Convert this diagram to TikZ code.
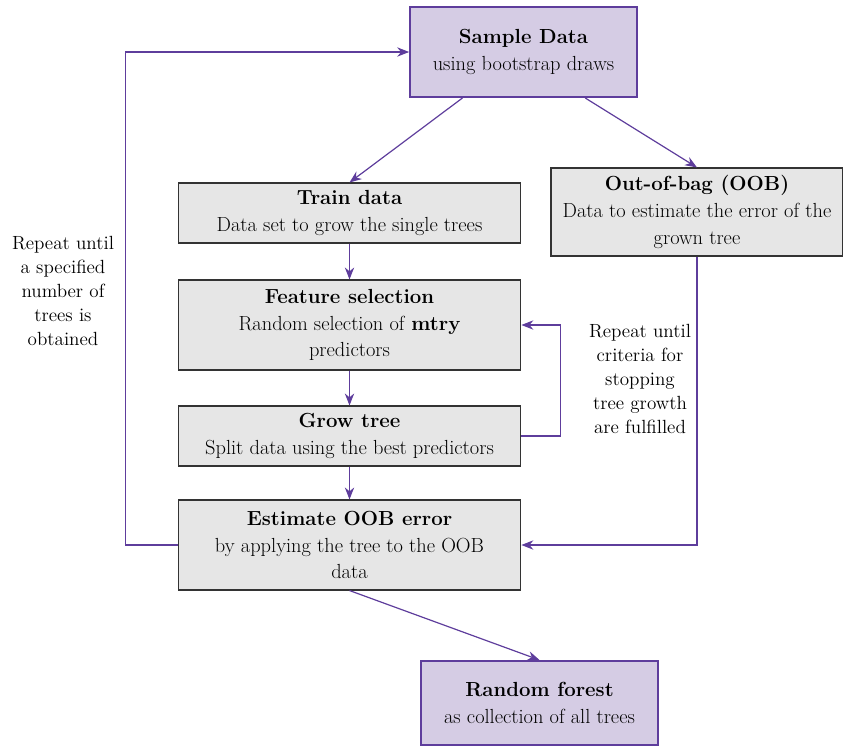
\documentclass[tikz,border=0pt]{standalone}
\usetikzlibrary{arrows.meta,calc}
\definecolor{lav}{HTML}{D5CCE4}
\definecolor{purp}{HTML}{5E3D9C}
\definecolor{boxgray}{HTML}{E6E6E6}
\begin{document}
\begin{tikzpicture}[x=0.75pt,y=-0.75pt,
  every node/.style={font=\fontsize{15.3}{20}\selectfont, align=center, inner sep=1pt},
  topbox/.style={draw=purp, line width=1.5pt, fill=lav},
  graybox/.style={draw=black!80, line width=0.8pt, fill=boxgray},
  lbl/.style={font=\fontsize{14.3}{18}\selectfont, align=center},
  conn/.style={draw=purp, line width=0.9pt, -{Stealth[length=9pt,width=7pt]}}]
\useasboundingbox (0,0) rectangle (843,747);
\node[topbox, minimum width=170pt, minimum height=67.5pt] (sample) at (523.5,52) {\textbf{Sample Data}\\using bootstrap draws};
\node[graybox, minimum width=257pt, minimum height=45pt] (train) at (349.5,213) {\textbf{Train data}\\Data set to grow the single trees};
\node[graybox, minimum width=219pt, minimum height=66pt] (oob) at (697,212) {\textbf{Out-of-bag (OOB)}\\Data to estimate the error of the\\grown tree};
\node[graybox, minimum width=257pt, minimum height=67.5pt] (feature) at (349.5,325) {\textbf{Feature selection}\\Random selection of \textbf{mtry}\\predictors};
\node[graybox, minimum width=257pt, minimum height=45pt] (grow) at (349.5,436) {\textbf{Grow tree}\\Split data using the best predictors};
\node[graybox, minimum width=257pt, minimum height=67.5pt] (est) at (349.5,545) {\textbf{Estimate OOB error}\\by applying the tree to the OOB\\data};
\node[topbox, minimum width=178pt, minimum height=63pt] (rf) at (539.5,703) {\textbf{Random forest}\\as collection of all trees};
\node[lbl] (lleft) at (63,291) {Repeat until\\a specified\\number of\\trees is\\obtained};
\node[lbl] (lright) at (640,379) {Repeat until\\criteria for\\stopping\\tree growth\\are fulfilled};
\draw[conn] ($(sample.south west)!0.233!(sample.south east)$) -- (train.north);
\draw[conn] ($(sample.south west)!0.77!(sample.south east)$) -- (oob.north);
\draw[conn] (train) -- (feature);
\draw[conn] (feature) -- (grow);
\draw[conn] (grow) -- (est);
\draw[conn] (est.south) -- (rf.north);
\draw[conn] (grow.east) -- ++(39,0) |- (feature.east);
\draw[conn] (est.west) -- ++(-52,0) |- (sample.west);
\draw[conn] (oob.south) |- (est.east);
\end{tikzpicture}
\end{document}
